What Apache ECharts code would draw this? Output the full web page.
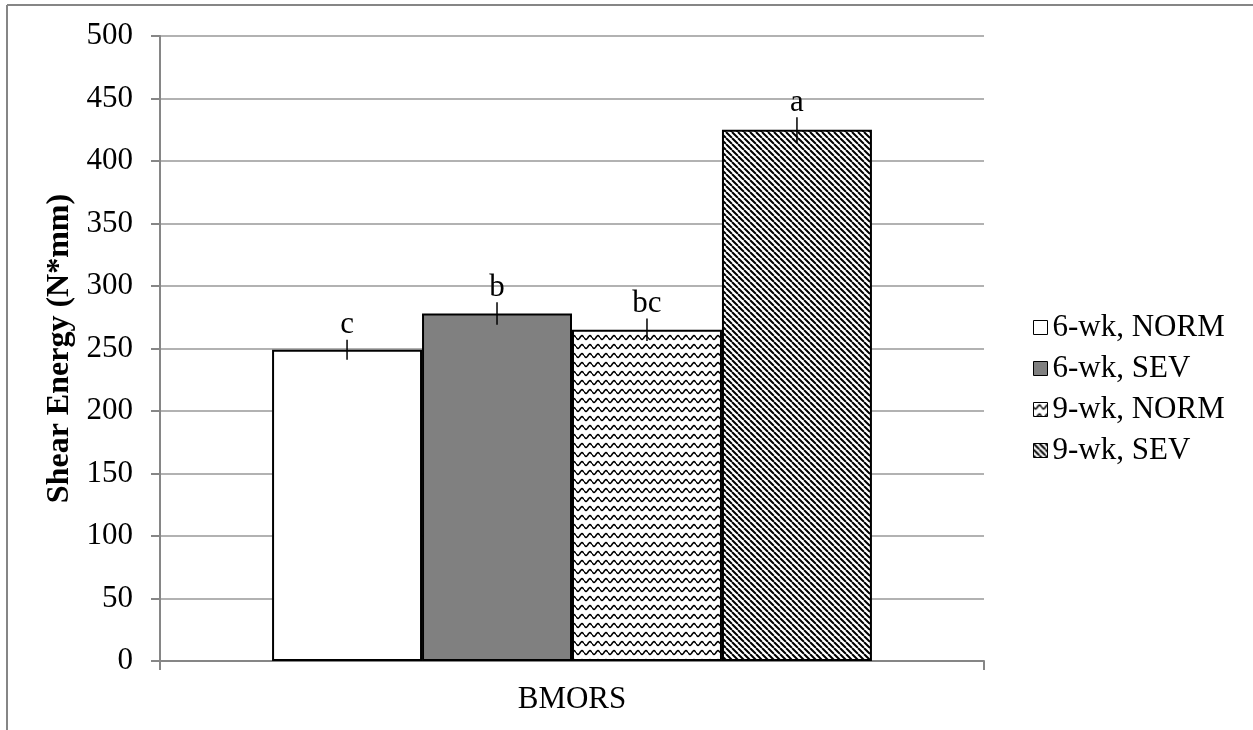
<!DOCTYPE html>
<html>
<head>
<meta charset="utf-8">
<script src="https://cdn.jsdelivr.net/npm/echarts@6/dist/echarts.min.js"></script>
<style>
html,body{margin:0;padding:0;background:#fff;}
#chart{width:1253px;height:730px;}
</style>
</head>
<body>
<div id="chart"></div>
<script>
// ---- data ----
const categories = ['BMORS'];
const seriesNames = ['6-wk, NORM', '6-wk, SEV', '9-wk, NORM', '9-wk, SEV'];
const means = [249, 278, 265, 425];
const errors = [8, 9, 9, 10];
const letters = ['c', 'b', 'bc', 'a'];
const yTicks = { min: 0, max: 500, interval: 50 };

// ---- patterns ----
function wavePattern() {
  const c = document.createElement('canvas');
  c.width = 8; c.height = 9;
  const g = c.getContext('2d');
  g.fillStyle = '#fff'; g.fillRect(0, 0, 8, 9);
  g.strokeStyle = '#000'; g.lineWidth = 1.6;
  g.beginPath();
  for (let x = 0; x <= 8; x += 0.5) {
    const y = 4.5 + 1.8 * Math.sin(x / 8 * Math.PI * 2);
    if (x === 0) g.moveTo(x, y); else g.lineTo(x, y);
  }
  g.stroke();
  return c;
}
function diagPattern() {
  const s = 6;
  const c = document.createElement('canvas');
  c.width = s; c.height = s;
  const g = c.getContext('2d');
  g.fillStyle = '#fff'; g.fillRect(0, 0, s, s);
  g.strokeStyle = '#000'; g.lineWidth = 2;
  g.beginPath();
  for (let x0 = -s; x0 <= s; x0 += s) {
    g.moveTo(x0, 0); g.lineTo(x0 + s, s);
  }
  g.stroke();
  return c;
}

const fills = [
  '#ffffff',
  '#808080',
  { image: wavePattern(), repeat: 'repeat' },
  { image: diagPattern(), repeat: 'repeat' }
];

const FONT = '"Liberation Serif", "Times New Roman", serif';
const GAP = 0.272;
const GRAY = '#868686';

const chart = echarts.init(document.getElementById('chart'), null, { renderer: 'canvas' });

const barSeries = seriesNames.map((name, i) => ({
  name: name,
  type: 'bar',
  data: [means[i]],
  barGap: '0%',
  barCategoryGap: (GAP * 100) + '%',
  itemStyle: { color: fills[i], borderColor: '#000', borderWidth: 2 },
  emphasis: { disabled: true },
  z: 2
}));

const errSeries = {
  type: 'custom',
  z: 3,
  silent: true,
  data: means.map((m, i) => [0, m, errors[i], i]),
  encode: { x: 0, y: 1 },
  renderItem: function (params, api) {
    const idx = api.value(3);
    const v = api.value(1), e = api.value(2);
    const c = api.coord([0, v]);
    const band = api.size([1, 0])[0];
    const groupW = band * (1 - GAP);
    const barW = groupW / seriesNames.length;
    const x = c[0] - groupW / 2 + (idx + 0.5) * barW;
    const yTop = api.coord([0, v + e])[1];
    const yBot = api.coord([0, v - e])[1];
    return {
      type: 'group',
      children: [
        { type: 'line', shape: { x1: x, y1: yTop, x2: x, y2: yBot }, style: { stroke: '#000', lineWidth: 1.5 } },
        { type: 'text', x: x, y: yTop + 1,
          style: { text: letters[idx], font: '31px ' + FONT, fill: '#000', align: 'center', verticalAlign: 'bottom' } }
      ]
    };
  }
};

chart.setOption({
  animation: false,
  backgroundColor: '#fff',
  grid: { left: 160, right: 269, top: 36, bottom: 69, containLabel: false },
  xAxis: {
    type: 'category',
    data: categories,
    axisLine: { lineStyle: { color: GRAY, width: 2 } },
    axisTick: { show: true, length: 9, lineStyle: { color: GRAY, width: 2 } },
    axisLabel: { color: '#000', fontFamily: FONT, fontSize: 31, margin: 23 }
  },
  yAxis: {
    type: 'value',
    min: yTicks.min, max: yTicks.max, interval: yTicks.interval,
    name: 'Shear Energy (N*mm)',
    nameLocation: 'middle',
    nameGap: 84,
    nameTextStyle: { color: '#000', fontFamily: FONT, fontSize: 32, fontWeight: 'bold' },
    axisLine: { show: true, lineStyle: { color: GRAY, width: 2 } },
    axisTick: { show: true, length: 9, lineStyle: { color: GRAY, width: 2 } },
    axisLabel: { color: '#000', fontFamily: FONT, fontSize: 31, margin: 27 },
    splitLine: { show: true, lineStyle: { color: '#999', width: 1.5 } }
  },
  legend: {
    orient: 'vertical',
    left: 1028,
    top: 307,
    itemWidth: 14,
    itemHeight: 14,
    itemGap: 10,
    icon: 'rect',
    data: seriesNames,
    itemStyle: { borderColor: '#000', borderWidth: 1 },
    textStyle: { color: '#000', fontFamily: FONT, fontSize: 31, lineHeight: 31, padding: [0, 0, 0, 0] },
    selectedMode: false
  },
  graphic: [
    { type: 'line', shape: { x1: 7, y1: 5, x2: 7, y2: 730 }, style: { stroke: GRAY, lineWidth: 2 }, silent: true },
    { type: 'line', shape: { x1: 7, y1: 5, x2: 1253, y2: 5 }, style: { stroke: GRAY, lineWidth: 2 }, silent: true }
  ],
  series: barSeries.concat([errSeries])
});
</script>
</body>
</html>
